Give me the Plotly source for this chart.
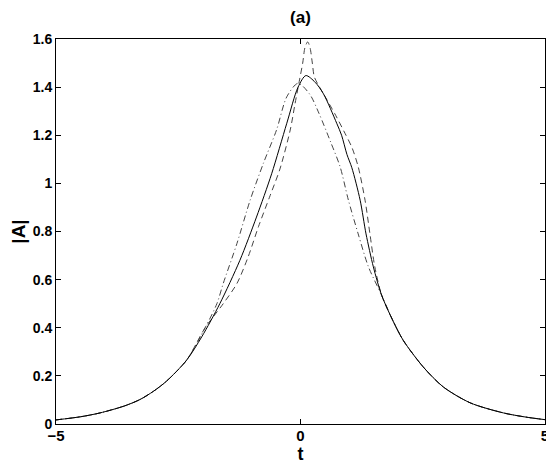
import plotly.graph_objects as go

# solid curve
t_solid = [-5.0, -4.5, -4.1, -3.6, -3.28, -3.0, -2.74, -2.33, -2.02, -1.65, -1.24, -0.9, -0.59,
           -0.28, -0.05, 0.11, 0.3, 0.47, 0.74, 0.84, 0.95, 1.05, 1.22, 1.34, 1.49, 1.66,
           1.9, 2.1, 2.51, 2.92, 3.47, 4.15, 4.6, 5.0]
a_solid = [0.017, 0.030, 0.046, 0.075, 0.102, 0.137, 0.178, 0.265, 0.362, 0.5, 0.68, 0.86, 1.04,
           1.25, 1.40, 1.448, 1.42, 1.372, 1.25, 1.20, 1.12, 1.065, 0.93, 0.79, 0.653, 0.535,
           0.425, 0.348, 0.237, 0.154, 0.088, 0.046, 0.029, 0.018]

# dashed curve (spike near t=0.15)
t_dash = [-5.0, -4.5, -4.1, -3.6, -3.28, -3.0, -2.74, -2.33, -1.95, -1.58, -1.3, -1.07, -0.86,
          -0.62, -0.42, -0.21, -0.11, -0.02, 0.045, 0.092, 0.147, 0.194, 0.242, 0.282,
          0.364, 0.47, 0.7, 0.91, 1.05, 1.18, 1.32, 1.42, 1.52, 1.66,
          1.9, 2.1, 2.51, 2.92, 3.47, 4.15, 4.6, 5.0]
a_dash = [0.017, 0.030, 0.046, 0.075, 0.102, 0.137, 0.178, 0.265, 0.40, 0.50, 0.584, 0.695, 0.82,
          0.95, 1.06, 1.222, 1.333, 1.43, 1.50, 1.565, 1.588, 1.565, 1.50, 1.443,
          1.409, 1.372, 1.29, 1.208, 1.15, 1.069, 0.93, 0.79, 0.653, 0.535,
          0.425, 0.348, 0.237, 0.154, 0.088, 0.046, 0.029, 0.018]

# dash-dot curve
t_dashdot = [-5.0, -4.5, -4.1, -3.6, -3.28, -3.0, -2.74, -2.33, -1.95, -1.71, -1.58, -1.3, -1.03,
             -0.76, -0.49, -0.28, -0.05, 0.19, 0.38, 0.62, 0.81, 0.98, 1.18, 1.39, 1.66,
             1.9, 2.1, 2.51, 2.92, 3.47, 4.15, 4.6, 5.0]
a_dashdot = [0.017, 0.030, 0.046, 0.075, 0.102, 0.137, 0.178, 0.265, 0.40, 0.50, 0.584, 0.75, 0.93,
             1.083, 1.222, 1.36, 1.416, 1.37, 1.29, 1.17, 1.069, 0.93, 0.79, 0.653, 0.535,
             0.425, 0.348, 0.237, 0.154, 0.088, 0.046, 0.029, 0.018]

x_ticks = [-5, 0, 5]
y_ticks = [0, 0.2, 0.4, 0.6, 0.8, 1, 1.2, 1.4, 1.6]
y_ticktext = ['0', '0.2', '0.4', '0.6', '0.8', '1', '1.2', '1.4', '1.6']

fig = go.Figure()

fig.add_trace(go.Scatter(
    x=t_dashdot, y=a_dashdot, mode='lines',
    line=dict(color='#444444', width=1, dash='6px,3px,1px,3px', shape='spline', smoothing=0.8),
))
fig.add_trace(go.Scatter(
    x=t_dash, y=a_dash, mode='lines',
    line=dict(color='#444444', width=1, dash='6px,4px', shape='spline', smoothing=0.8),
))
fig.add_trace(go.Scatter(
    x=t_solid, y=a_solid, mode='lines',
    line=dict(color='black', width=1, shape='spline', smoothing=0.8),
))

font = dict(family='Liberation Sans, Arial, sans-serif', color='black', weight='bold')

# the page body adds an 8px margin, so the figure is 8px smaller than the window
fig.update_layout(
    width=546, height=461,
    margin=dict(l=48, r=9, t=31, b=45),
    paper_bgcolor='white',
    plot_bgcolor='white',
    showlegend=False,
    title=dict(text='(a)', x=0.5, xref='paper', y=0.98, yanchor='middle',
               font=dict(size=17, **font)),
)

fig.update_xaxes(
    range=[-5, 5], tickmode='array', tickvals=x_ticks,
    ticks='inside', ticklen=5, tickcolor='black',
    showline=True, linecolor='black', linewidth=1, mirror='ticks',
    showgrid=False, zeroline=False, automargin=False,
    ticklabeloverflow='allow', ticklabelstandoff=-2,
    tickfont=dict(size=15, **font),
    title=dict(text='t', font=dict(size=18, **font), standoff=0),
)
fig.update_yaxes(
    range=[0, 1.6], tickmode='array', tickvals=y_ticks, ticktext=y_ticktext,
    ticks='inside', ticklen=5, tickcolor='black',
    showline=True, linecolor='black', linewidth=1, mirror='ticks',
    showgrid=False, zeroline=False, automargin=False,
    ticklabelstandoff=0,
    tickfont=dict(size=14, **font),
    title=dict(text='|A|', font=dict(size=19, **font), standoff=8),
)

fig.write_html("out.html")
